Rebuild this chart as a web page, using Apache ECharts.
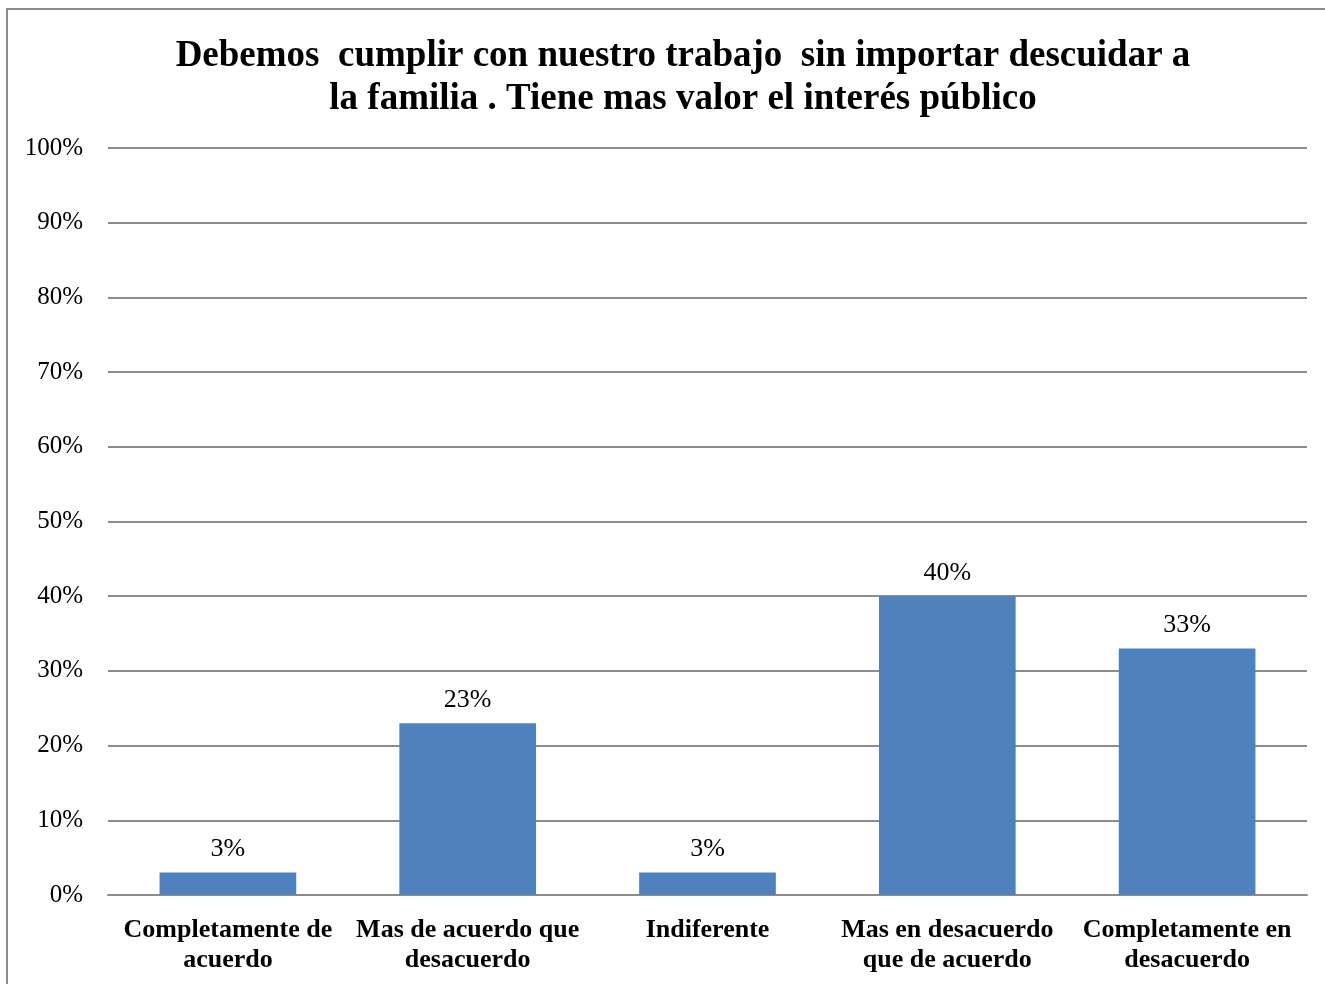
<!DOCTYPE html>
<html>
<head>
<meta charset="utf-8">
<script src="https://cdn.jsdelivr.net/npm/echarts@6/dist/echarts.min.js"></script>
<style>
html, body { margin: 0; padding: 0; background: #fff; }
#chart { width: 1325px; height: 984px; }
</style>
</head>
<body>
<div id="chart"></div>
<script>
const titleText = 'Debemos  cumplir con nuestro trabajo  sin importar descuidar a\nla familia . Tiene mas valor el interés público'
const categories = [
    'Completamente de\nacuerdo',
    'Mas de acuerdo que\ndesacuerdo',
    'Indiferente',
    'Mas en desacuerdo\nque de acuerdo',
    'Completamente en\ndesacuerdo'
]
const values = [3, 23, 3, 40, 33]
const yTicks = [0, 10, 20, 30, 40, 50, 60, 70, 80, 90, 100]

const serif = '"Liberation Serif", "Times New Roman", serif'
const chart = echarts.init(document.getElementById('chart'), null, { renderer: 'canvas' })
chart.setOption({
    animation: false,
    title: {
        text: titleText,
        left: 678,
        top: 30,
        textAlign: 'center',
        textStyle: {
            fontFamily: serif,
            fontWeight: 'bold',
            fontSize: 37,
            lineHeight: 43,
            color: '#000',
        },
    },
    graphic: [{
        type: 'rect',
        shape: { x: 7, y: 9, width: 1340, height: 1000 },
        style: { fill: 'none', stroke: '#8c8c8c', lineWidth: 2 },
        silent: true,
    }],
    grid: {
        left: 108,
        right: 18,
        top: 148,
        bottom: 89,
        containLabel: false,
    },
    xAxis: {
        type: 'category',
        data: categories,
        axisLine: { lineStyle: { color: '#8c8c8c', width: 2 }},
        axisTick: { show: false },
        axisLabel: {
            interval: 0,
            margin: 20,
            fontFamily: serif,
            fontWeight: 'bold',
            fontSize: 26,
            lineHeight: 30,
            color: '#000',
        },
    },
    yAxis: {
        type: 'value',
        min: yTicks[0],
        max: yTicks[yTicks.length - 1],
        interval: 10,
        axisLine: { show: false },
        axisTick: { show: false },
        splitLine: { lineStyle: { color: '#8c8c8c', width: 2 }},
        axisLabel: {
            margin: 25,
            formatter: '{value}%',
            fontFamily: serif,
            fontSize: 25,
            color: '#000',
        },
    },
    series: [{
        type: 'bar',
        data: values,
        barWidth: '57%',
        itemStyle: { color: '#4f81bd' },
        label: {
            show: true,
            position: 'top',
            distance: 10,
            formatter: '{c}%',
            fontFamily: serif,
            fontSize: 26,
            color: '#000',
        },
    }],
})
</script>
</body>
</html>
